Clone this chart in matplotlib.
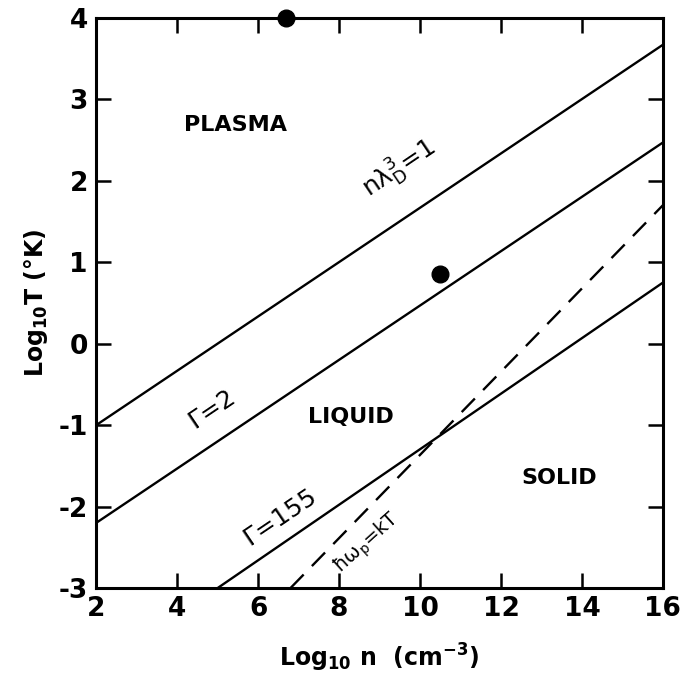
import numpy as np
import matplotlib
matplotlib.use("Agg")
import matplotlib.pyplot as plt

# line end points (log10 n, log10 T)
debye_n = [2, 16]
debye_T = [-1.0, 3.67]
gamma2_n = [2, 16]
gamma2_T = [-2.2, 2.47]
gamma155_n = [5, 16]
gamma155_T = [-3.0, 0.75]
plasmon_n = [6.8, 16]
plasmon_T = [-3.0, 1.7]

# marked points
dots_n = [6.7, 10.5]
dots_T = [4.0, 0.85]

xticks = [2, 4, 6, 8, 10, 12, 14, 16]
yticks = [-3, -2, -1, 0, 1, 2, 3, 4]

plt.rcParams['font.family'] = ['DejaVu Sans']
plt.rcParams['axes.unicode_minus'] = False
plt.rcParams['mathtext.default'] = 'regular'

fig = plt.figure(figsize=(6.82, 6.87), dpi=100)
ax = fig.add_axes([0.141, 0.144, 0.831, 0.830])

ax.plot(debye_n, debye_T, color="black", linewidth=1.7)
ax.plot(gamma2_n, gamma2_T, color="black", linewidth=1.7)
ax.plot(gamma155_n, gamma155_T, color="black", linewidth=1.7)
ax.plot(plasmon_n, plasmon_T, color="black", linewidth=1.7,
        linestyle=(0, (8, 5)))
ax.plot(dots_n, dots_T, "o", color="black", markersize=12, clip_on=False,
        zorder=5)

ax.set_xlim(2, 16)
ax.set_ylim(-3, 4)
ax.set_xticks(xticks)
ax.set_yticks(yticks)
ax.tick_params(direction="in", length=11, width=1.8, top=True, right=True,
               labelsize=19, pad=6)
for lab in ax.get_xticklabels() + ax.get_yticklabels():
    lab.set_fontweight("bold")
for s in ax.spines.values():
    s.set_linewidth(2.2)

ax.set_xlabel("Log$_{10}$ n  (cm$^{-3}$)", fontsize=17, labelpad=14,
              fontweight="bold")
ax.set_ylabel("Log$_{10}$T (°K)", fontsize=17, labelpad=6,
              fontweight="bold")

# region labels
ax.text(5.45, 2.69, "PLASMA", fontsize=16, ha="center", va="center",
        fontweight="bold")
ax.text(8.3, -0.9, "LIQUID", fontsize=16, ha="center", va="center",
        fontweight="bold")
ax.text(13.45, -1.65, "SOLID", fontsize=16, ha="center", va="center",
        fontweight="bold")

# line labels
ax.text(9.5, 2.15, r"n$\lambda_D^3$=1", fontsize=18, rotation=34,
        ha="center", va="center")
ax.text(4.85, -0.82, r"$\Gamma$=2", fontsize=18, rotation=34,
        ha="center", va="center")
ax.text(6.55, -2.15, r"$\Gamma$=155", fontsize=18, rotation=34,
        ha="center", va="center")
ax.text(8.7, -2.45, r"$\hbar\omega_p$=kT", fontsize=14, rotation=42,
        ha="center", va="center")

fig.savefig("out.png", dpi=100)
